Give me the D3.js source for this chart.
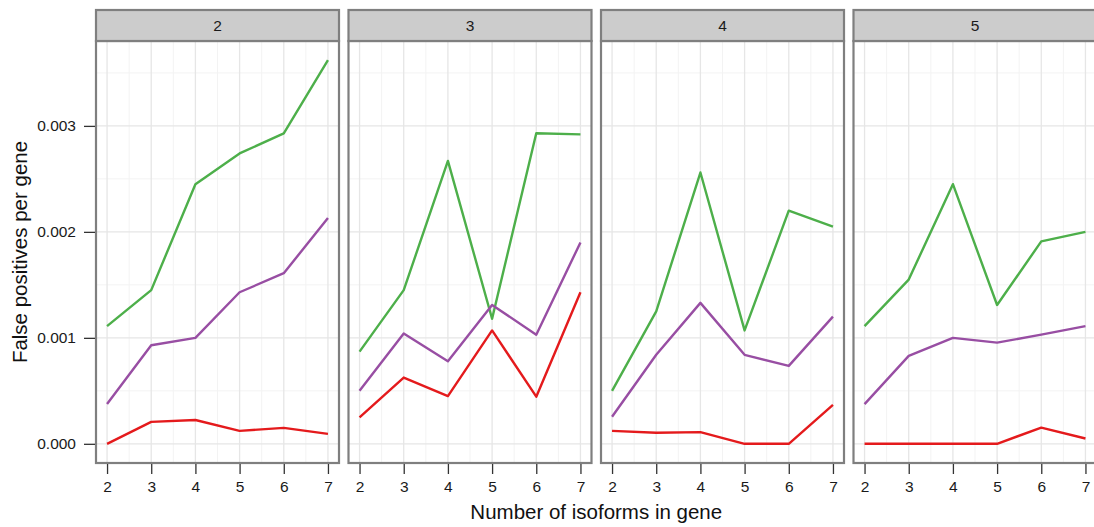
<!DOCTYPE html>
<html>
<head>
<meta charset="utf-8">
<script src="https://cdn.jsdelivr.net/npm/d3@7"></script>
<style>
  html, body { margin: 0; padding: 0; background: #fff; }
  svg { display: block; font-family: "Liberation Sans", Arial, Helvetica, sans-serif; }
</style>
</head>
<body>
<svg id="chart" width="1094" height="527"></svg>
<script>
// ---- Data ----
const facets = ["2", "3", "4", "5"];
const isoforms = [2, 3, 4, 5, 6, 7];
const yTicks = [0, 0.001, 0.002, 0.003];
const yTickLabels = ["0.000", "0.001", "0.002", "0.003"];
const xTickLabels = ["2", "3", "4", "5", "6", "7"];

// one row per facet, one value per isoform count
const greenSeries = [
  [0.00111, 0.00145, 0.00245, 0.00274, 0.00293, 0.00362],
  [0.00087, 0.00145, 0.00267, 0.00118, 0.00293, 0.00292],
  [0.00050, 0.00125, 0.00256, 0.00107, 0.00220, 0.00205],
  [0.00111, 0.00155, 0.00245, 0.00131, 0.00191, 0.00200]
];
const purpleSeries = [
  [0.000375, 0.00093, 0.00100, 0.00143, 0.00161, 0.00213],
  [0.00050, 0.00104, 0.00078, 0.00131, 0.00103, 0.00190],
  [0.000255, 0.00084, 0.00133, 0.00084, 0.000735, 0.00120],
  [0.000375, 0.00083, 0.00100, 0.000955, 0.00103, 0.00111]
];
const redSeries = [
  [0.0, 0.000207, 0.000225, 0.000122, 0.00015, 0.000094],
  [0.00025, 0.000625, 0.00045, 0.00107, 0.000445, 0.00143],
  [0.000122, 0.000105, 0.00011, 0.0, 0.0, 0.000367],
  [0.0, 0.0, 0.0, 0.0, 0.000153, 0.00005]
];
const seriesColors = ["#4daf4a", "#984ea3", "#e41a1c"];
const xTitle = "Number of isoforms in gene";
const yTitle = "False positives per gene";

// ---- Layout ----
const svg = d3.select("#chart");
const panelTop = 41, panelBottom = 463;
const panelW = 243, firstLeft = 96, panelStep = 252.5;
const stripTop = 10;

const allVals = greenSeries.flat().concat(purpleSeries.flat(), redSeries.flat());
const yMin = d3.min(allVals), yMax = d3.max(allVals);
const yPad = (yMax - yMin) * 0.05;
const y = d3.scaleLinear().domain([yMin - yPad, yMax + yPad]).range([panelBottom, panelTop]);
const xPad = (d3.max(isoforms) - d3.min(isoforms)) * 0.05;

const yMinor = [0.0005, 0.0015, 0.0025, 0.0035];
const xMinor = [2.5, 3.5, 4.5, 5.5, 6.5];

const line = (x) => d3.line().x((d, i) => x(isoforms[i])).y(d => y(d));

facets.forEach((f, fi) => {
  const left = firstLeft + fi * panelStep;
  const x = d3.scaleLinear()
    .domain([d3.min(isoforms) - xPad, d3.max(isoforms) + xPad])
    .range([left, left + panelW]);
  const g = svg.append("g");

  g.append("rect").attr("x", left).attr("y", panelTop)
    .attr("width", panelW).attr("height", panelBottom - panelTop).attr("fill", "#fff");

  // minor grid
  g.selectAll(".ymin").data(yMinor).join("line")
    .attr("x1", left).attr("x2", left + panelW)
    .attr("y1", d => y(d)).attr("y2", d => y(d))
    .attr("stroke", "#f3f3f3").attr("stroke-width", 1);
  g.selectAll(".xmin").data(xMinor).join("line")
    .attr("x1", d => x(d)).attr("x2", d => x(d))
    .attr("y1", panelTop).attr("y2", panelBottom)
    .attr("stroke", "#f3f3f3").attr("stroke-width", 1);
  // major grid
  g.selectAll(".ymaj").data(yTicks).join("line")
    .attr("x1", left).attr("x2", left + panelW)
    .attr("y1", d => y(d)).attr("y2", d => y(d))
    .attr("stroke", "#e6e6e6").attr("stroke-width", 1.3);
  g.selectAll(".xmaj").data(isoforms).join("line")
    .attr("x1", d => x(d)).attr("x2", d => x(d))
    .attr("y1", panelTop).attr("y2", panelBottom)
    .attr("stroke", "#e6e6e6").attr("stroke-width", 1.3);

  // lines
  [greenSeries, purpleSeries, redSeries].forEach((s, si) => {
    g.append("path").datum(s[fi])
      .attr("d", line(x))
      .attr("fill", "none")
      .attr("stroke", seriesColors[si])
      .attr("stroke-width", 2.4)
      .attr("stroke-linejoin", "round");
  });

  // panel border
  g.append("rect").attr("x", left).attr("y", panelTop)
    .attr("width", panelW).attr("height", panelBottom - panelTop)
    .attr("fill", "none").attr("stroke", "#7f7f7f").attr("stroke-width", 2.2);

  // strip
  g.append("rect").attr("x", left).attr("y", stripTop)
    .attr("width", panelW).attr("height", panelTop - stripTop)
    .attr("fill", "#cccccc").attr("stroke", "#7f7f7f").attr("stroke-width", 2.2);
  g.append("text").attr("x", left + panelW / 2).attr("y", (stripTop + panelTop) / 2)
    .attr("dy", "0.36em").attr("text-anchor", "middle")
    .attr("font-size", 15.5).attr("fill", "#1a1a1a").text(f);

  // x axis
  const xAxis = d3.axisBottom(x).tickValues(isoforms)
    .tickFormat((d, i) => xTickLabels[i]).tickSize(10).tickPadding(7);
  const ax = g.append("g").attr("transform", `translate(0,${panelBottom + 1})`).call(xAxis);
  ax.select(".domain").remove();
  ax.selectAll(".tick line").attr("stroke", "#333").attr("stroke-width", 1.3);
  ax.selectAll(".tick text").attr("font-size", 15.5).attr("fill", "#1a1a1a")
    .attr("font-family", "'Liberation Sans', Arial, sans-serif");

  if (fi === 0) {
    const yAxis = d3.axisLeft(y).tickValues(yTicks)
      .tickFormat((d, i) => yTickLabels[i]).tickSize(11).tickPadding(8);
    const ay = g.append("g").attr("transform", `translate(${left - 1},0)`).call(yAxis);
    ay.select(".domain").remove();
    ay.selectAll(".tick line").attr("stroke", "#333").attr("stroke-width", 1.3);
    ay.selectAll(".tick text").attr("font-size", 15.5).attr("fill", "#1a1a1a")
      .attr("font-family", "'Liberation Sans', Arial, sans-serif");
  }
});

// axis titles
svg.append("text")
  .attr("x", firstLeft + (panelStep * 3 + panelW) / 2)
  .attr("y", 519)
  .attr("text-anchor", "middle").attr("font-size", 20.5).attr("fill", "#111")
  .text(xTitle);
svg.append("text")
  .attr("transform", `translate(27,${(panelTop + panelBottom) / 2}) rotate(-90)`)
  .attr("text-anchor", "middle").attr("font-size", 20.5).attr("fill", "#111")
  .text(yTitle);
</script>
</body>
</html>
